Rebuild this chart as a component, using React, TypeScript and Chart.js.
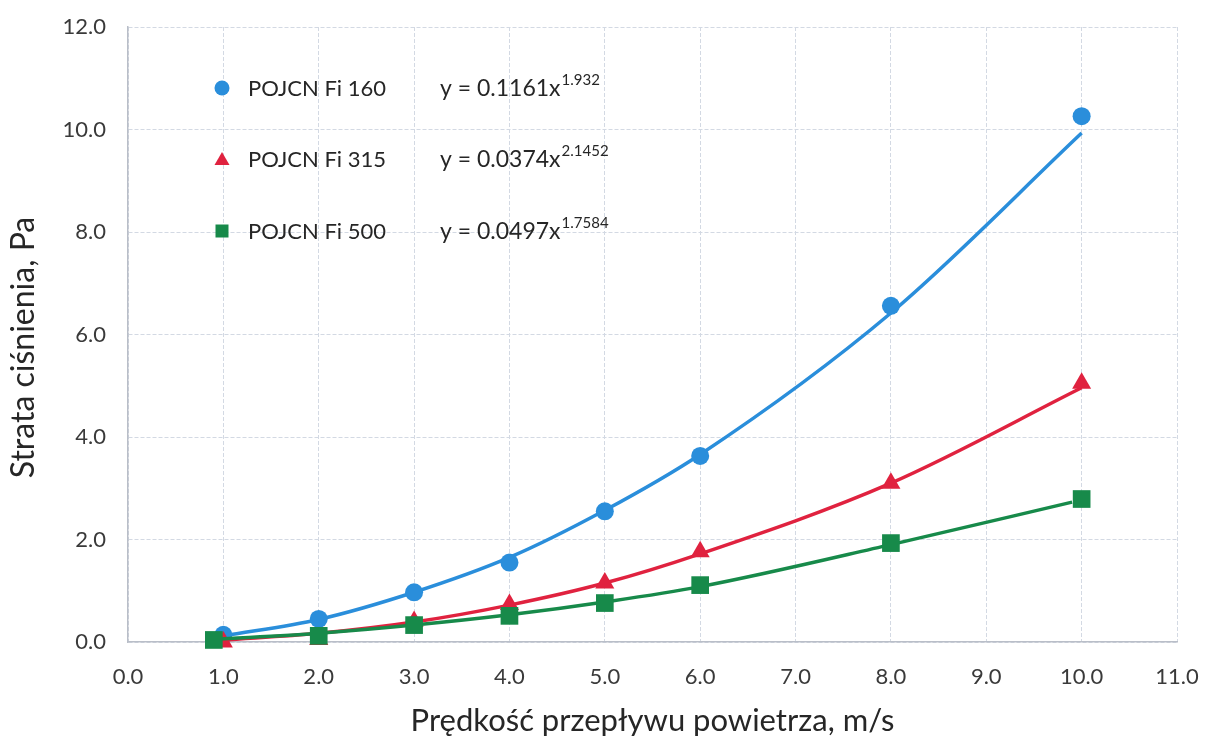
import React, { useEffect, useRef } from 'react';
import { Chart, registerables } from 'chart.js';

Chart.register(...registerables);

// ---- data ----
const xTickValues = [0, 1, 2, 3, 4, 5, 6, 7, 8, 9, 10, 11];
const yTickValues = [0, 2, 4, 6, 8, 10, 12];

const seriesNames = ['POJCN Fi 160', 'POJCN Fi 315', 'POJCN Fi 500'];
const equationMain = ['y = 0.1161x', 'y = 0.0374x', 'y = 0.0497x'];
const equationExp = ['1.932', '2.1452', '1.7584'];
const xTitle = 'Prędkość przepływu powietrza, m/s';
const yTitle = 'Strata ciśnienia, Pa';

const blueX = [1.0, 2.0, 3.0, 4.0, 5.0, 6.0, 8.0, 10.0];
const blueY = [0.14, 0.45, 0.97, 1.55, 2.55, 3.63, 6.56, 10.26];
const redX = [1.0, 2.0, 3.0, 4.0, 5.0, 6.0, 8.0, 10.0];
const redY = [0.0, 0.05, 0.4, 0.73, 1.15, 1.76, 3.1, 5.05];
const greenX = [0.9, 2.0, 3.0, 4.0, 5.0, 6.0, 8.0, 10.0];
const greenY = [0.04, 0.12, 0.33, 0.51, 0.76, 1.11, 1.93, 2.79];

// trend-line values
const blueTrendX = [1.0, 2.0, 3.0, 4.0, 5.0, 6.0, 8.0, 10.0];
const blueTrendY = [0.12, 0.44, 0.97, 1.65, 2.57, 3.66, 6.42, 9.93];
const redTrendX = [1.0, 2.0, 3.0, 4.0, 5.0, 6.0, 8.0, 10.0];
const redTrendY = [0.04, 0.17, 0.39, 0.72, 1.15, 1.72, 3.1, 4.96];
const greenTrendX = [0.9, 2.0, 3.0, 4.0, 5.0, 6.0, 8.0, 9.9];
const greenTrendY = [0.05, 0.17, 0.33, 0.53, 0.78, 1.08, 1.9, 2.73];

const BLUE = '#2a8edb';
const RED = '#e0223f';
const GREEN = '#178a4a';
const FONT = 'Lato, "Open Sans", sans-serif';

const pts = (xs: number[], ys: number[]) => xs.map((x, i) => ({ x, y: ys[i] }));

const legendPlugin = {
  id: 'customLegend',
  afterDatasetsDraw(chart: any) {
    const ctx = chart.ctx as CanvasRenderingContext2D;
    const colors = [BLUE, RED, GREEN];
    const rowsY = [88, 159, 231];
    const markerX = 222;
    const nameX = 248;
    const eqX = 440;
    ctx.save();
    rowsY.forEach((cy, i) => {
      ctx.fillStyle = colors[i];
      ctx.beginPath();
      if (i === 0) {
        ctx.arc(markerX, cy, 7.5, 0, Math.PI * 2);
      } else if (i === 1) {
        ctx.moveTo(markerX, cy - 7);
        ctx.lineTo(markerX + 7.5, cy + 6);
        ctx.lineTo(markerX - 7.5, cy + 6);
        ctx.closePath();
      } else {
        ctx.rect(markerX - 6.5, cy - 6.5, 13, 13);
      }
      ctx.fill();
      ctx.fillStyle = '#262626';
      ctx.textBaseline = 'middle';
      ctx.textAlign = 'left';
      ctx.font = `22px ${FONT}`;
      ctx.fillText(seriesNames[i], nameX, cy + 1);
      ctx.font = `23px ${FONT}`;
      ctx.fillText(equationMain[i], eqX, cy + 1);
      const w = ctx.measureText(equationMain[i]).width;
      ctx.font = `15px ${FONT}`;
      ctx.fillText(equationExp[i], eqX + w + 1, cy - 8);
    });
    // y axis title
    const area = chart.chartArea;
    ctx.save();
    ctx.translate(24, (area.top + area.bottom) / 2 + 13);
    ctx.rotate(-Math.PI / 2);
    ctx.textAlign = 'center';
    ctx.textBaseline = 'middle';
    ctx.font = `32px ${FONT}`;
    ctx.fillStyle = '#262626';
    ctx.fillText(yTitle, 0, 0);
    ctx.restore();
    ctx.restore();
  },
};

export default function App() {
  const canvasRef = useRef<HTMLCanvasElement | null>(null);

  useEffect(() => {
    if (!canvasRef.current) return;
    const gridColor = '#d3d9e3';
    const chart = new Chart(canvasRef.current, {
      type: 'scatter',
      data: {
        datasets: [
          {
            label: 'trend160',
            data: pts(blueTrendX, blueTrendY),
            showLine: true,
            borderColor: BLUE,
            borderWidth: 3.5,
            pointRadius: 0,
            cubicInterpolationMode: 'monotone',
            clip: false,
            order: 6,
          },
          {
            label: seriesNames[0],
            data: pts(blueX, blueY),
            showLine: false,
            backgroundColor: BLUE,
            borderColor: BLUE,
            pointStyle: 'circle',
            pointRadius: 9,
            borderWidth: 0,
            clip: false,
            order: 5,
          },
          {
            label: 'trend315',
            data: pts(redTrendX, redTrendY),
            showLine: true,
            borderColor: RED,
            borderWidth: 3.5,
            pointRadius: 0,
            cubicInterpolationMode: 'monotone',
            clip: false,
            order: 4,
          },
          {
            label: seriesNames[1],
            data: pts(redX, redY),
            showLine: false,
            backgroundColor: RED,
            borderColor: RED,
            pointStyle: 'triangle',
            pointRadius: 11,
            borderWidth: 0,
            clip: false,
            order: 3,
          },
          {
            label: 'trend500',
            data: pts(greenTrendX, greenTrendY),
            showLine: true,
            borderColor: GREEN,
            borderWidth: 3.5,
            pointRadius: 0,
            cubicInterpolationMode: 'monotone',
            clip: false,
            order: 2,
          },
          {
            label: seriesNames[2],
            data: pts(greenX, greenY),
            showLine: false,
            backgroundColor: GREEN,
            borderColor: GREEN,
            pointStyle: 'rect',
            pointRadius: 12.5,
            borderWidth: 0,
            clip: false,
            order: 1,
          },
        ],
      },
      options: {
        animation: false,
        responsive: true,
        maintainAspectRatio: false,
        layout: { padding: { top: 27, right: 35, left: 0, bottom: 0 } },
        plugins: {
          legend: { display: false },
          tooltip: { enabled: false },
        },
        scales: {
          x: {
            type: 'linear',
            min: 0,
            max: 11,
            afterBuildTicks: (s: any) => {
              s.ticks = xTickValues.map((v) => ({ value: v }));
            },
            afterFit: (s: any) => {
              s.height = 98;
              s.paddingLeft = 0;
              s.paddingRight = 0;
            },
            ticks: {
              padding: 22,
              color: '#3a3a3a',
              font: { family: FONT, size: 22 },
              callback: (v: any) => Number(v).toFixed(1),
              maxRotation: 0,
            },
            grid: {
              color: gridColor,
              lineWidth: 1,
              drawTicks: false,
            },
            border: { display: true, color: '#b9bec8', width: 1.5, dash: [4, 2] },
            title: {
              display: true,
              text: xTitle,
              color: '#262626',
              font: { family: FONT, size: 31 },
              padding: { top: 0, bottom: 0 },
            },
          },
          y: {
            type: 'linear',
            min: 0,
            max: 12,
            afterBuildTicks: (s: any) => {
              s.ticks = yTickValues.map((v) => ({ value: v }));
            },
            afterFit: (s: any) => {
              s.width = 128;
              s.paddingTop = 0;
              s.paddingBottom = 0;
            },
            ticks: {
              padding: 22,
              color: '#3a3a3a',
              font: { family: FONT, size: 22 },
              callback: (v: any) => Number(v).toFixed(1),
            },
            grid: {
              color: gridColor,
              lineWidth: 1,
              drawTicks: false,
            },
            border: { display: true, color: '#b9bec8', width: 1.5, dash: [4, 2] },
          },
        },
      } as any,
      plugins: [
        {
          id: 'gridDash',
          beforeInit(chart: any) {
            chart.options.scales.x.border.dash = [4, 2];
          },
        },
        legendPlugin,
      ],
    });
    // dotted grid lines like the reference
    (chart.options.scales as any).x.border.dash = [4, 2];
    (chart.options.scales as any).y.border.dash = [4, 2];
    chart.update();
    return () => chart.destroy();
  }, []);

  return (
    <div style={{ position: 'fixed', left: 0, top: 0, width: 1212, height: 740, background: '#fff' }}>
      <canvas ref={canvasRef} />
    </div>
  );
}
